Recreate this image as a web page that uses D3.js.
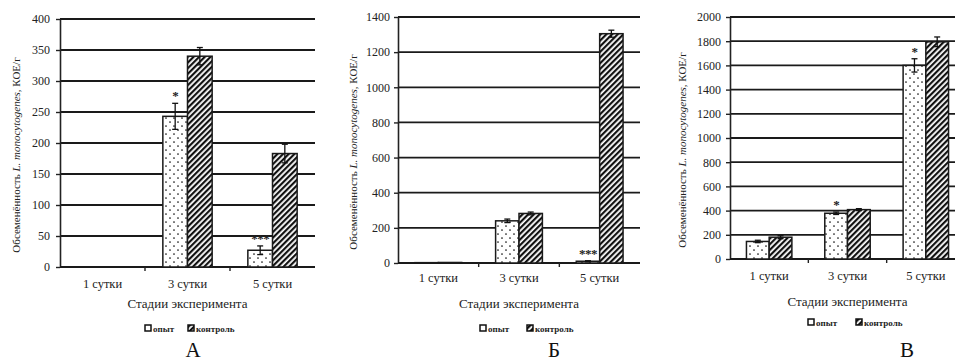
<!DOCTYPE html>
<html>
<head>
<meta charset="utf-8">
<script src="https://cdn.jsdelivr.net/npm/d3@7/dist/d3.min.js"></script>
<style>
  html, body { margin: 0; padding: 0; background: #fff; }
  svg { display: block; }
  svg text { font-family: "Liberation Serif", "Tinos", "DejaVu Serif", serif; }
</style>
</head>
<body>
<svg id="chart" width="955" height="362"></svg>
<script>
// Categories and series
const categories = ["1 сутки", "3 сутки", "5 сутки"];
const seriesNames = ["опыт", "контроль"];

// Panel А
const opytA = [0, 243, 27];
const kontrolA = [0, 340, 183];
const opytErrA = [0, 21, 7];
const kontrolErrA = [0, 14, 15];
const marksA = ["", "*", "***"];
const ticksA = [0, 50, 100, 150, 200, 250, 300, 350, 400];

// Panel Б
const opytB = [2, 240, 10];
const kontrolB = [3, 282, 1305];
const opytErrB = [0, 10, 3];
const kontrolErrB = [0, 8, 20];
const marksB = ["", "", "***"];
const ticksB = [0, 200, 400, 600, 800, 1000, 1200, 1400];

// Panel В
const opytC = [145, 378, 1600];
const kontrolC = [180, 408, 1795];
const opytErrC = [10, 10, 55];
const kontrolErrC = [12, 8, 40];
const marksC = ["", "*", "*"];
const ticksC = [0, 200, 400, 600, 800, 1000, 1200, 1400, 1600, 1800, 2000];

const panelLetters = ["А", "Б", "В"];
const yTitle = "КОЕ/г";
const xTitle = "Стадии эксперимента";

const svg = d3.select("#chart");
const defs = svg.append("defs");

// Sparse dot fill for "опыт"
const dots = defs.append("pattern").attr("id", "dots")
  .attr("patternUnits", "userSpaceOnUse").attr("width", 8).attr("height", 8);
dots.append("rect").attr("width", 8).attr("height", 8).attr("fill", "#fff");
dots.append("circle").attr("cx", 2).attr("cy", 2).attr("r", 0.85).attr("fill", "#111");
dots.append("circle").attr("cx", 6).attr("cy", 6).attr("r", 0.85).attr("fill", "#111");

// Diagonal hatching for "контроль"
const hatch = defs.append("pattern").attr("id", "hatch")
  .attr("patternUnits", "userSpaceOnUse").attr("width", 4).attr("height", 4)
  .attr("patternTransform", "rotate(45)");
hatch.append("rect").attr("width", 4).attr("height", 4).attr("fill", "#fff");
hatch.append("rect").attr("x", 0).attr("y", 0).attr("width", 2.2).attr("height", 4)
  .attr("fill", "#111");

const fills = ["url(#dots)", "url(#hatch)"];
const serif = '"Liberation Serif", "Tinos", "DejaVu Serif", serif';

const panels = [
  { series: [opytA, kontrolA], errs: [opytErrA, kontrolErrA], marks: marksA, ticks: ticksA,
    left: 60, right: 315, top: 19, bottom: 267, labelGap: 10, yTitleX: 16,
    catY: 288, titleY: 308, legendX: 145, legendY: 329, legendGap: 36, letterX: 193 },
  { series: [opytB, kontrolB], errs: [opytErrB, kontrolErrB], marks: marksB, ticks: ticksB,
    left: 398, right: 640, top: 17, bottom: 263, labelGap: 8, yTitleX: 353,
    catY: 282, titleY: 308, legendX: 480, legendY: 329, legendGap: 40, letterX: 554 },
  { series: [opytC, kontrolC], errs: [opytErrC, kontrolErrC], marks: marksC, ticks: ticksC,
    left: 730, right: 965, top: 17, bottom: 259, labelGap: 9, yTitleX: 682,
    catY: 280, titleY: 306, legendX: 808, legendY: 323, legendGap: 41, letterX: 907 }
];

panels.forEach((p, pi) => {
  const g = svg.append("g");
  const y = d3.scaleLinear().domain([0, d3.max(p.ticks)]).range([p.bottom, p.top]);
  const x = d3.scaleBand().domain(categories).range([p.left, p.right]).padding(0);
  const barW = x.bandwidth() * 0.29;

  // Horizontal gridlines
  g.selectAll(".grid").data(p.ticks.slice(1)).join("line")
    .attr("x1", p.left).attr("x2", p.right)
    .attr("y1", d => y(d)).attr("y2", d => y(d))
    .attr("stroke", "#1a1a1a").attr("stroke-width", 1.8);

  // Value axis
  const yAxis = g.append("g").attr("transform", `translate(${p.left},0)`)
    .call(d3.axisLeft(y).tickValues(p.ticks).tickFormat(d3.format("d"))
      .tickSize(4).tickPadding(p.labelGap - 4).tickSizeOuter(0));
  yAxis.attr("font-family", serif);
  yAxis.select(".domain").attr("stroke", "#222").attr("stroke-width", 1.6);
  yAxis.selectAll(".tick line").attr("stroke", "#222").attr("stroke-width", 1.4);
  yAxis.selectAll(".tick text").attr("font-size", 12).attr("fill", "#222");

  // Category axis
  g.append("line").attr("x1", p.left).attr("x2", p.right)
    .attr("y1", p.bottom).attr("y2", p.bottom)
    .attr("stroke", "#1a1a1a").attr("stroke-width", 1.8);
  g.selectAll(".ctick").data(categories.slice(1)).join("line")
    .attr("x1", d => x(d)).attr("x2", d => x(d))
    .attr("y1", p.bottom).attr("y2", p.bottom + 4)
    .attr("stroke", "#222").attr("stroke-width", 1.4);
  g.selectAll(".clabel").data(categories).join("text")
    .attr("x", d => x(d) + x.bandwidth() / 2).attr("y", p.catY)
    .attr("text-anchor", "middle").attr("font-size", 12.5).attr("fill", "#222")
    .text(d => d);

  // Bars
  p.series.forEach((vals, si) => {
    const bx = (i) => x(categories[i]) + x.bandwidth() / 2 + (si === 0 ? -barW : 0);
    g.selectAll(".bar" + si).data(vals).join("rect")
      .attr("x", (d, i) => bx(i)).attr("width", barW)
      .attr("y", d => y(d)).attr("height", d => p.bottom - y(d))
      .attr("fill", fills[si])
      .attr("stroke", d => d > 0 ? "#1a1a1a" : "none").attr("stroke-width", 1.5);

    // Error bars
    vals.forEach((v, i) => {
      const e = p.errs[si][i];
      if (!e) return;
      const cx = bx(i) + barW / 2;
      g.append("line").attr("x1", cx).attr("x2", cx)
        .attr("y1", y(v + e)).attr("y2", y(Math.max(0, v - e)))
        .attr("stroke", "#111").attr("stroke-width", 1.3);
      [v + e, Math.max(0, v - e)].forEach(val => {
        g.append("line").attr("x1", cx - 3).attr("x2", cx + 3)
          .attr("y1", y(val)).attr("y2", y(val))
          .attr("stroke", "#111").attr("stroke-width", 1.3);
      });
    });
  });

  // Significance marks above "опыт"
  p.marks.forEach((m, i) => {
    if (!m) return;
    const v = p.series[0][i] + p.errs[0][i];
    const cx = x(categories[i]) + x.bandwidth() / 2 - barW / 2;
    g.append("text").attr("x", cx).attr("y", y(v) - 3)
      .attr("text-anchor", "middle").attr("font-size", 13).attr("font-weight", "bold")
      .attr("fill", "#222").attr("letter-spacing", -0.5).text(m);
  });

  // Vertical axis title
  const mid = (p.top + p.bottom) / 2 + 12;
  const yt = g.append("text")
    .attr("transform", `translate(${p.yTitleX + 4},${mid}) rotate(-90)`)
    .attr("text-anchor", "middle").attr("font-size", 11).attr("fill", "#222");
  yt.append("tspan").text("Обсеменённость ");
  yt.append("tspan").attr("font-style", "italic").text("L. monocytogenes");
  yt.append("tspan").text(", " + yTitle);

  // Category axis title
  g.append("text").attr("x", (p.left + Math.min(p.right, 955)) / 2 + (pi === 2 ? 5 : 0))
    .attr("y", p.titleY).attr("text-anchor", "middle")
    .attr("font-size", 13).attr("fill", "#222").text(xTitle);

  // Legend
  const lg = g.append("g").attr("transform", `translate(${p.legendX},${p.legendY})`);
  seriesNames.forEach((name, si) => {
    const ox = si === 0 ? 0 : p.legendGap + 7;
    lg.append("rect").attr("x", ox).attr("y", -4).attr("width", 6).attr("height", 6)
      .attr("fill", si === 0 ? "#fff" : "url(#hatch)").attr("stroke", "#111").attr("stroke-width", 1.5);
    lg.append("text").attr("x", ox + 8).attr("y", 3)
      .attr("font-size", 9).attr("font-weight", "bold").attr("fill", "#222").text(name);
  });

  // Panel letter
  g.append("text").attr("x", p.letterX).attr("y", 357).attr("text-anchor", "middle")
    .attr("font-size", 21).attr("fill", "#111").text(panelLetters[pi]);
});
</script>
</body>
</html>
